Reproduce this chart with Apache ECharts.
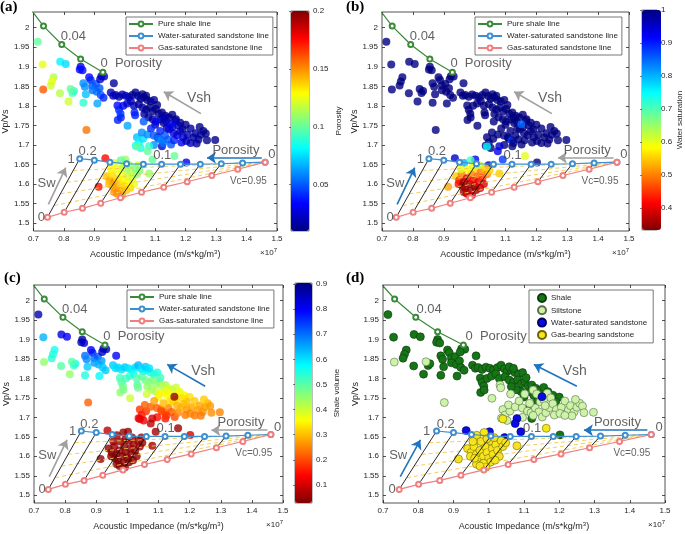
<!DOCTYPE html>
<html>
<head>
<meta charset="utf-8">
<script src="https://cdn.jsdelivr.net/npm/echarts@6/dist/echarts.min.js"></script>
<style>
  html, body { margin: 0; background: #fff; }
  #chart { width: 685px; height: 534px; }
</style>
</head>
<body>
<div id="chart"></div>
<script>
// ---- data (AI in 1e7 m/s*kg/m3, Vp/Vs) ----
const yTicks = [1.5, 1.55, 1.6, 1.65, 1.7, 1.75, 1.8, 1.85, 1.9, 1.95, 2];

// rock physics template lines
const shaleLineAI   = [0.69, 0.733, 0.793, 0.855, 0.928];
const shaleLineVpVs = [2.048, 2.004, 1.957, 1.920, 1.886];
const waterLineAI   = [0.852, 0.900, 0.951, 1.006, 1.061, 1.121, 1.183, 1.248, 1.317, 1.387, 1.461];
const waterLineVpVs = [1.665, 1.661, 1.656, 1.652, 1.651, 1.651, 1.651, 1.651, 1.652, 1.654, 1.656];
const gasLineAI     = [0.746, 0.801, 0.861, 0.921, 0.986, 1.055, 1.128, 1.205, 1.286, 1.371, 1.461];
const gasLineVpVs   = [1.515, 1.528, 1.538, 1.551, 1.565, 1.579, 1.592, 1.606, 1.622, 1.638, 1.656];
// constant-Sw dashed lines: start on the first Sw line, end at the Vc vertex
const swLineStartAI   = [0.831, 0.810, 0.789, 0.768];
const swLineStartVpVs = [1.635, 1.605, 1.575, 1.545];

// well-log points: [AI, Vp/Vs, porosity, water saturation, shale volume]
const shalePts = [
  [0.714,1.964,0.10,1,0.86],[0.730,1.906,0.125,1,0.64],[0.788,1.913,0.08,1,0.82],[0.806,1.907,0.075,1,0.80],
  [0.766,1.873,0.115,1,0.56],[0.761,1.862,0.125,1,0.55],[0.757,1.852,0.12,1,0.54],[0.787,1.832,0.115,1,0.50],
  [0.828,1.833,0.095,1,0.52],[0.833,1.838,0.09,1,0.55],[0.815,1.811,0.12,1,0.45],[0.864,1.808,0.09,1,0.55],
  [0.855,1.900,0.03,1,0.88],[0.852,1.893,0.035,1,0.86],[0.861,1.891,0.035,1,0.84],[0.883,1.873,0.035,1,0.80],
  [0.888,1.866,0.04,1,0.78],[0.864,1.858,0.06,1,0.70],[0.869,1.849,0.06,1,0.68],[0.894,1.852,0.05,1,0.70],
  [0.905,1.856,0.05,1,0.72],[0.894,1.840,0.055,1,0.66],[0.908,1.836,0.055,1,0.64],[0.917,1.845,0.05,1,0.66],
  [0.921,1.828,0.05,1,0.62],[0.872,1.830,0.07,1,0.62],[0.910,1.806,0.065,1,0.58],[0.923,1.876,0.02,1,0.88],
  [0.932,1.875,0.02,1,0.86],[0.919,1.868,0.025,1,0.84],[0.930,1.821,0.04,1,0.62],[0.964,1.858,0.015,1,0.80],
  [0.954,1.834,0.02,1,0.62],[0.962,1.826,0.02,1,0.60],[0.970,1.828,0.02,1,0.61],[0.981,1.823,0.018,1,0.60],
  [0.992,1.829,0.018,1,0.62],[1.003,1.826,0.02,1,0.60],[1.014,1.822,0.02,1,0.59],[1.025,1.828,0.015,1,0.60],
  [1.035,1.834,0.012,1,0.64],[1.044,1.825,0.015,1,0.60],[1.052,1.818,0.015,1,0.58],[1.063,1.822,0.012,1,0.58],
  [1.074,1.815,0.012,1,0.56],[1.085,1.811,0.012,1,0.55],[1.096,1.815,0.015,1,0.55],[1.058,1.830,0.012,1,0.62],
  [1.070,1.826,0.012,1,0.60],[0.976,1.801,0.035,1,0.52],[0.981,1.790,0.04,1,0.50],[0.986,1.780,0.045,1,0.48],
  [0.995,1.800,0.03,1,0.52],[1.008,1.806,0.025,1,0.53],[1.020,1.812,0.02,1,0.56],[1.030,1.800,0.02,1,0.50],
  [1.046,1.804,0.015,1,0.50],[1.058,1.796,0.015,1,0.48],[1.070,1.790,0.012,1,0.46],[1.082,1.796,0.012,1,0.48],
  [1.092,1.786,0.012,1,0.45],[1.102,1.792,0.012,1,0.46],[1.112,1.780,0.012,1,0.42],[1.122,1.783,0.012,1,0.43],
  [1.133,1.775,0.012,1,0.40],[1.145,1.770,0.012,1,0.40],[1.156,1.777,0.012,1,0.40],[1.168,1.766,0.012,1,0.37],
  [1.182,1.757,0.012,1,0.35],[1.200,1.752,0.012,1,0.33],[1.106,1.802,0.012,1,0.52],[1.118,1.765,0.015,1,0.38],
  [1.128,1.756,0.015,1,0.36],[1.100,1.752,0.015,1,0.35],[1.108,1.720,0.02,1,0.22],[1.122,1.697,0.025,1,0.15],
  [1.202,1.655,0.03,1,0.10],[0.977,1.764,0.04,1,0.45],[0.987,1.770,0.04,1,0.47],[1.138,1.742,0.015,1,0.33],
  [1.092,1.766,0.015,1,0.42],[1.078,1.771,0.015,1,0.43],[1.064,1.779,0.015,1,0.45],[1.190,1.740,0.012,1,0.30]
];
const siltPts = [
  [0.732,1.842,0.16,1,0.45],[0.822,1.843,0.10,1,0.50],[0.874,1.738,0.155,1,0.22],[1.009,1.749,0.065,1,0.40],
  [1.032,1.783,0.04,1,0.50],[1.034,1.776,0.04,1,0.48],[1.040,1.720,0.07,1,0.18],[1.046,1.706,0.08,1,0.15],
  [1.052,1.692,0.085,1,0.12],[1.036,1.698,0.085,1,0.12],[1.060,1.716,0.075,1,0.18],[1.056,1.732,0.06,1,0.22],
  [1.075,1.727,0.06,1,0.22],[1.086,1.742,0.04,1,0.28],[1.095,1.724,0.05,1,0.22],[1.110,1.716,0.055,1,0.20],
  [1.120,1.712,0.06,0.88,0.20],[1.132,1.724,0.05,1,0.25],[1.142,1.714,0.05,1,0.22],[1.152,1.701,0.05,1,0.20],
  [1.162,1.712,0.04,1,0.25],[1.172,1.725,0.03,1,0.28],[1.146,1.740,0.03,1,0.32],[1.156,1.746,0.025,1,0.33],
  [1.166,1.762,0.02,1,0.37],[1.176,1.750,0.02,1,0.33],[1.182,1.735,0.02,1,0.30],[1.192,1.720,0.025,1,0.27],
  [1.186,1.706,0.03,1,0.24],[1.206,1.726,0.02,1,0.28],[1.216,1.742,0.015,1,0.31],[1.226,1.719,0.015,1,0.27],
  [1.232,1.730,0.015,1,0.28],[1.242,1.714,0.015,1,0.26],[1.250,1.726,0.015,1,0.27],[1.258,1.736,0.012,1,0.29],
  [1.246,1.746,0.012,1,0.31],[1.236,1.704,0.015,1,0.24],[1.266,1.729,0.012,1,0.27],[1.297,1.713,0.012,1,0.25],
  [1.126,1.770,0.02,1,0.38],[1.136,1.760,0.02,1,0.36],[1.102,1.760,0.03,1,0.35],[1.116,1.736,0.04,1,0.30],
  [1.160,1.730,0.025,1,0.29],[1.202,1.710,0.02,1,0.25],[1.216,1.705,0.02,1,0.24],[1.062,1.760,0.05,1,0.40],
  [1.096,1.700,0.06,1,0.15],[1.126,1.705,0.055,1,0.18],[1.270,1.712,0.012,1,0.26]
];
const waterPts = [
  [0.936,1.666,0.175,0.95,0.08],[1.002,1.663,0.11,0.92,0.05],[1.045,1.648,0.12,0.95,0.05],
  [1.080,1.697,0.09,0.95,0.10],[1.075,1.684,0.10,0.93,0.08],[1.091,1.663,0.10,0.88,0.06],[1.151,1.753,0.03,0.85,0.05]
];
const gasPts = [
  [0.966,1.654,0.125,0.80,0.05],[0.987,1.661,0.10,0.70,0.05],[0.940,1.620,0.14,0.55,0.04],[0.950,1.610,0.145,0.45,0.04],
  [0.948,1.600,0.14,0.42,0.04],[0.958,1.625,0.135,0.50,0.05],[0.965,1.605,0.15,0.36,0.03],[0.970,1.590,0.15,0.34,0.03],
  [0.975,1.615,0.135,0.40,0.04],[0.985,1.600,0.14,0.35,0.03],[0.990,1.625,0.125,0.50,0.04],[0.995,1.610,0.13,0.42,0.04],
  [1.000,1.595,0.135,0.36,0.03],[1.005,1.640,0.11,0.55,0.05],[1.010,1.620,0.12,0.48,0.04],[1.012,1.605,0.13,0.40,0.04],
  [1.020,1.630,0.115,0.50,0.05],[1.025,1.615,0.12,0.45,0.04],[1.030,1.600,0.125,0.40,0.04],[1.035,1.640,0.105,0.55,0.05],
  [1.040,1.625,0.11,0.50,0.05],[0.978,1.638,0.125,0.58,0.05],[1.005,1.585,0.14,0.36,0.03],[0.965,1.580,0.15,0.35,0.03],
  [0.985,1.582,0.145,0.34,0.03],[1.018,1.590,0.135,0.38,0.04],[0.955,1.638,0.13,0.60,0.05],[1.048,1.635,0.105,0.55,0.05],
  [0.995,1.645,0.115,0.60,0.05],[1.015,1.648,0.11,0.62,0.05],[0.914,1.593,0.175,0.52,0.05],[1.080,1.627,0.11,0.55,0.06],
  [1.040,1.696,0.10,0.75,0.12],[1.163,1.672,0.10,0.60,0.05],[0.960,1.595,0.145,0.36,0.03],[0.992,1.572,0.145,0.40,0.03],
  [0.975,1.575,0.15,0.38,0.03]
];

// ---- styling ----
const FONT = 'Liberation Sans';
const TXT = '#262626';
const NOTE = '#3a3a3a';
const GRAY = '#a0a0a0';
const BLUE = '#1f74bd';
const jet = ['#000080', '#0000ff', '#0080ff', '#00ffff', '#80ff80', '#ffff00', '#ff8000', '#ff0000', '#800000'];
const jetRev = jet.slice().reverse();

const fmt = v => String(+v.toFixed(2));
const zip = (a, b) => a.map((v, i) => [v, b[i]]);

const panels = [
  { tag: '(a)', tagPos: [0, 0], box: [33, 12, 244, 219], arrows: [GRAY, GRAY, BLUE],
    cbar: { dim: 2, min: 0.01, max: 0.2, colors: jet, box: [291, 11, 18, 220], ticks: [0.05, 0.1, 0.15, 0.2], name: 'Porosity', gap: 26 } },
  { tag: '(b)', tagPos: [346, 0], box: [382, 12, 247, 219], arrows: [BLUE, GRAY, GRAY],
    cbar: { dim: 3, min: 0.333, max: 1, colors: jetRev, box: [642, 10, 19, 220], ticks: [0.4, 0.5, 0.6, 0.7, 0.8, 0.9, 1], name: 'Water saturation', gap: 18 } },
  { tag: '(c)', tagPos: [4, 271], box: [34, 285, 249, 218], arrows: [GRAY, BLUE, GRAY],
    cbar: { dim: 4, min: 0.028, max: 0.904, colors: jetRev, box: [295, 283, 17, 220], ticks: [0.1, 0.2, 0.3, 0.4, 0.5, 0.6, 0.7, 0.8, 0.9], name: 'Shale volume', gap: 21 } },
  { tag: '(d)', tagPos: [346, 271], box: [383, 285, 282, 218], arrows: [BLUE, BLUE, BLUE], cbar: null }
];

// annotation text: [text, AI, Vp/Vs, fontSize]
const notes = [
  ['0.04', 0.831, 1.977, 13], ['0  Porosity', 1.021, 1.909, 13], ['Vsh', 1.244, 1.819, 14],
  ['Porosity', 1.365, 1.686, 13], ['0', 1.483, 1.675, 13], ['1', 0.824, 1.663, 13],
  ['0.2', 0.878, 1.683, 13], ['0.1', 1.123, 1.672, 13], ['Sw', 0.743, 1.602, 13],
  ['0', 0.726, 1.514, 13], ['Vc=0.95', 1.406, 1.608, 10]
];
// arrows: Sw, Vsh, Porosity  [[tail], [head]]
const arrowCoords = [
  [[0.749, 1.548], [0.806, 1.642]],
  [[1.250, 1.780], [1.128, 1.836]],
  [[1.450, 1.667], [1.270, 1.667]]
];

const option = {
  animation: false,
  backgroundColor: '#fff',
  textStyle: { fontFamily: FONT },
  title: [], grid: [], xAxis: [], yAxis: [], legend: [], visualMap: [], series: [], graphic: []
};

const tickStyle = { inside: true, length: 3, lineStyle: { color: TXT, width: 0.8 } };

panels.forEach((p, k) => {
  const [L, T, W, H] = p.box;
  const gi = option.grid.length;
  option.grid.push({ left: L, top: T, width: W, height: H, show: true, borderColor: TXT, borderWidth: 0.8, backgroundColor: '#fff' });
  const xi = option.xAxis.length, yi = option.yAxis.length;
  option.xAxis.push({
    gridIndex: gi, type: 'value', min: 0.7, max: 1.5, interval: 0.1,
    axisLine: { show: false }, axisTick: tickStyle, splitLine: { show: false },
    axisLabel: { fontSize: 8, color: TXT, margin: 4, formatter: fmt },
    name: 'Acoustic Impedance (m/s*kg/m{s|3})', nameLocation: 'middle', nameGap: 18,
    nameTextStyle: { fontSize: 9, color: TXT, rich: { s: { fontSize: 6, padding: [0, 0, 6, 0], color: TXT } } }
  });
  option.xAxis.push({
    gridIndex: gi, type: 'value', min: 0.7, max: 1.5, interval: 0.1, position: 'top',
    axisLine: { show: false }, axisTick: tickStyle, axisLabel: { show: false }, splitLine: { show: false }
  });
  option.yAxis.push({
    gridIndex: gi, type: 'value', min: 1.48, max: 2.04,
    axisLine: { show: false }, splitLine: { show: false },
    axisTick: Object.assign({ customValues: yTicks }, tickStyle),
    axisLabel: { customValues: yTicks, fontSize: 8, color: TXT, margin: 4, formatter: fmt },
    name: 'Vp/Vs', nameLocation: 'middle', nameGap: 22, nameRotate: 90,
    nameTextStyle: { fontSize: 9, color: TXT }
  });
  option.yAxis.push({
    gridIndex: gi, type: 'value', min: 1.48, max: 2.04, position: 'right',
    axisLine: { show: false }, splitLine: { show: false },
    axisTick: Object.assign({ customValues: yTicks }, tickStyle), axisLabel: { show: false }
  });
  const ax = { xAxisIndex: xi, yAxisIndex: yi };

  option.title.push({ text: p.tag, left: p.tagPos[0], top: p.tagPos[1], padding: 0,
    textStyle: { fontFamily: 'Liberation Serif', fontWeight: 'bold', fontSize: 15, color: '#000' } });
  option.graphic.push({ type: 'text', right: 685 - (L + W), top: T + H + 16,
    style: { text: '×10{s|7}', fontSize: 8, fill: TXT, fontFamily: FONT,
      rich: { s: { fontSize: 6, padding: [0, 0, 6, 0], fill: TXT } } } });

  // scatter points
  if (p.cbar) {
    const si = option.series.length;
    option.series.push(Object.assign({
      type: 'scatter', name: 'pts' + k, symbolSize: 8, z: 2,
      data: shalePts.concat(siltPts, waterPts, gasPts), encode: { x: 0, y: 1 }
    }, ax));
    option.visualMap.push({
      type: 'continuous', seriesIndex: si, dimension: p.cbar.dim, min: p.cbar.min, max: p.cbar.max,
      inRange: { color: p.cbar.colors }, calculable: false, text: null, padding: 0,
      left: p.cbar.box[0], top: p.cbar.box[1], itemWidth: p.cbar.box[2], itemHeight: p.cbar.box[3]
    });
    // colorbar axis
    const [cl, ct, cw, ch] = p.cbar.box;
    const cg = option.grid.length;
    option.grid.push({ left: cl, top: ct, width: cw, height: ch, show: true, borderColor: TXT, borderWidth: 0.6 });
    option.xAxis.push({ gridIndex: cg, type: 'value', show: false });
    option.yAxis.push({
      gridIndex: cg, type: 'value', position: 'right', min: p.cbar.min, max: p.cbar.max,
      axisLine: { show: false }, splitLine: { show: false },
      axisTick: { customValues: p.cbar.ticks, inside: true, length: 2, lineStyle: { color: TXT, width: 0.6 } },
      axisLabel: { customValues: p.cbar.ticks, fontSize: 8, color: TXT, margin: 4, formatter: fmt },
      name: p.cbar.name, nameLocation: 'middle', nameRotate: 90, nameGap: p.cbar.gap,
      nameTextStyle: { fontSize: 8, color: TXT }
    });
  } else {
    const groups = [
      ['Shale', shalePts, '#167516', '#0b3b0b'],
      ['Siltstone', siltPts, '#cdf3a6', '#5a6e50'],
      ['Water-saturated sandstone', waterPts, '#0a0ae6', '#00005c'],
      ['Gas-bearing sandstone', gasPts, '#f6e61c', '#6e6400']
    ];
    groups.forEach(g => option.series.push(Object.assign({
      type: 'scatter', name: g[0], symbolSize: 8, z: 2, data: g[1], encode: { x: 0, y: 1 },
      itemStyle: { color: g[2], borderColor: g[3], borderWidth: 0.6, opacity: 1 }
    }, ax)));
    option.legend.push({
      data: groups.map(g => g[0]), left: 529, top: 290, orient: 'vertical', selectedMode: false,
      icon: 'circle', itemWidth: 8, itemHeight: 8, itemGap: 2.3, padding: [3, 6, 3, 8],
      backgroundColor: '#fff', borderColor: '#555', borderWidth: 0.8,
      textStyle: { fontSize: 8, color: TXT }
    });
  }

  // template
  option.series.push(Object.assign({
    type: 'lines', coordinateSystem: 'cartesian2d', silent: true, z: 3,
    lineStyle: { color: '#f2c94a', width: 0.9, type: [4, 3], opacity: 1 },
    data: swLineStartAI.map((a, i) => ({ coords: [[a, swLineStartVpVs[i]], [waterLineAI[10], waterLineVpVs[10]]] }))
  }, ax));
  option.series.push(Object.assign({
    type: 'lines', coordinateSystem: 'cartesian2d', silent: true, z: 3,
    lineStyle: { color: '#111', width: 0.9, opacity: 1 },
    data: gasLineAI.slice(0, 10).map((a, i) => ({ coords: [[a, gasLineVpVs[i]], [waterLineAI[i], waterLineVpVs[i]]] }))
  }, ax));
  [['Pure shale line', shaleLineAI, shaleLineVpVs, '#3a8a3a'],
   ['Water-saturated sandstone line', waterLineAI, waterLineVpVs, '#3d8fd0'],
   ['Gas-saturated sandstone line', gasLineAI, gasLineVpVs, '#f07f7f']].forEach(t => {
    option.series.push(Object.assign({
      type: 'line', name: t[0], data: zip(t[1], t[2]), z: 4, clip: true,
      symbol: 'emptyCircle', symbolSize: 5, showAllSymbol: true,
      lineStyle: { color: t[3], width: 1.2 }, itemStyle: { color: t[3], borderWidth: 1 }
    }, ax));
  });
  if (p.cbar) {
    option.legend.push({
      data: ['Pure shale line', 'Water-saturated sandstone line', 'Gas-saturated sandstone line'],
      left: L + 93, top: T + 5, orient: 'vertical', selectedMode: false,
      itemWidth: 24, itemHeight: 6, itemGap: 4, padding: [3, 4, 3, 2],
      backgroundColor: '#fff', borderColor: '#555', borderWidth: 0.8,
      textStyle: { fontSize: 8, color: TXT }
    });
  }
  // arrows
  option.series.push(Object.assign({
    type: 'lines', coordinateSystem: 'cartesian2d', silent: true, z: 5,
    symbol: ['none', 'arrow'], symbolSize: 9,
    data: arrowCoords.map((c, i) => ({ coords: c, lineStyle: { color: p.arrows[i], width: 1.6, opacity: 1 } }))
  }, ax));
  // annotations
  option.series.push(Object.assign({
    type: 'scatter', silent: true, z: 6, symbolSize: 1, itemStyle: { color: 'rgba(0,0,0,0)' },
    data: notes.map(n => ({ name: n[0], value: [n[1], n[2]],
      label: { show: true, position: 'inside', formatter: '{b}', fontSize: n[3], color: NOTE } }))
  }, ax));
});

const chart = echarts.init(document.getElementById('chart'), null, { renderer: 'canvas' });
chart.setOption(option);
</script>
</body>
</html>
